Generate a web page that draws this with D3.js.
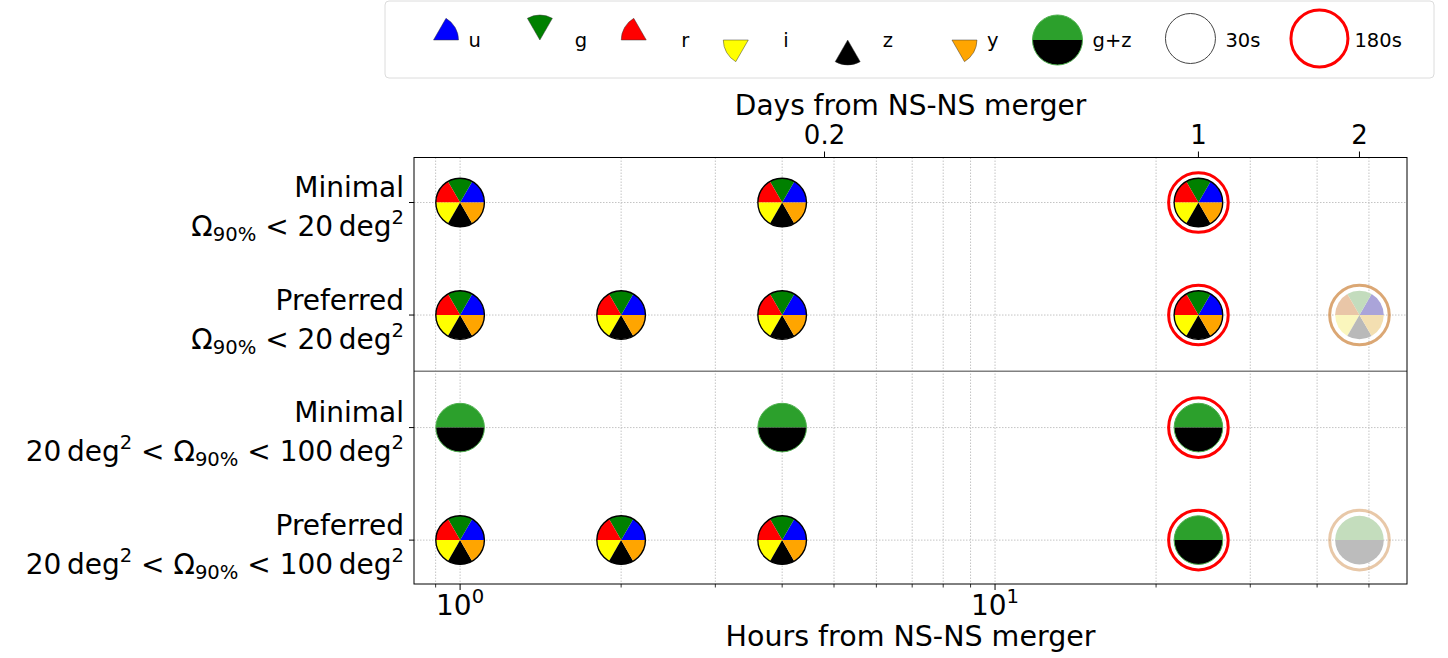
<!DOCTYPE html>
<html><head><meta charset="utf-8">
<script src="https://cdn.jsdelivr.net/npm/d3@7"></script>
<style>
body{margin:0;background:#fff}
svg{display:block}
text{font-family:"DejaVu Sans",sans-serif;fill:#000}
</style>
</head><body>
<svg id="chart" width="1448" height="658"></svg>
<script>
// ---------------- data ----------------
const rowLevels = ["Minimal", "Preferred", "Minimal", "Preferred"];
const rowArea = ["lt20", "lt20", "20to100", "20to100"];
const bandNames = ["u", "g", "r", "i", "z", "y"];
const bandColors = ["#0000ff", "#008000", "#ff0000", "#ffff00", "#000000", "#ffa500"];
const bandFaded = ["#aaa4d9", "#c3dcbd", "#e9c6a7", "#faf6bd", "#b9b9b9", "#f3dfb1"];
const gzNames = ["g", "z"];
const gzColors = ["#2ca02c", "#000000"];
const gzFaded = ["#c4ddbd", "#bcbcbc"];
const obsRow      = [0, 0, 0,   1, 1, 1, 1, 1,   2, 2, 2,   3, 3, 3, 3, 3];
const obsHours    = [1, 4, 24,  1, 2, 4, 24, 48, 1, 4, 24,  1, 2, 4, 24, 48];
const obsFilters  = ["ugrizy","ugrizy","ugrizy",
                     "ugrizy","ugrizy","ugrizy","ugrizy","ugrizy",
                     "g+z","g+z","g+z",
                     "ugrizy","ugrizy","ugrizy","g+z","g+z"];
const obsExposure = ["30s","30s","180s",
                     "30s","30s","30s","180s","180s",
                     "30s","30s","180s",
                     "30s","30s","30s","180s","180s"];
const obsFaded    = [false,false,false, false,false,false,false,true,
                     false,false,false, false,false,false,false,true];
const hourMajorTicks = [1, 10];
const hourMajorLabels = ["0", "1"];           // exponents of 10
const hourMinorTicks = [0.9, 2, 3, 4, 5, 6, 7, 8, 9, 20, 30, 40, 50];
const dayTicks = [0.2, 1, 2];
const dayTickLabels = ["0.2", "1", "2"];
const legendItems = ["u", "g", "r", "i", "z", "y", "g+z", "30s", "180s"];

// ---------------- layout ----------------
const svg = d3.select("#chart");
const L = 414, R = 1407, T = 157.5, B = 584;
const x = d3.scaleLog().domain([0.82, 58.9]).range([L, R]);
const y = d3.scaleLinear().domain([-0.4, 3.39]).range([T, B]);
const PIE_R = 24.3, RING_R = 29.8, LEG_R = 25;

const deg = a => a * Math.PI / 180;
// math angle (ccw from +x) -> d3 arc angles
function wedge(r, a1, a2) {
  return d3.arc().innerRadius(0).outerRadius(r)
    .startAngle(Math.PI / 2 - deg(a2)).endAngle(Math.PI / 2 - deg(a1))();
}

// ---------------- grid ----------------
const grid = svg.append("g");
hourMajorTicks.concat(hourMinorTicks).forEach(h => {
  grid.append("line").attr("x1", x(h)).attr("x2", x(h)).attr("y1", T).attr("y2", B)
    .attr("stroke", "#c4c4c4").attr("stroke-width", 1).attr("stroke-dasharray", "1.5,1.5");
});
[0, 1, 2, 3].forEach(r => {
  grid.append("line").attr("x1", L).attr("x2", R).attr("y1", y(r)).attr("y2", y(r))
    .attr("stroke", "#c4c4c4").attr("stroke-width", 1).attr("stroke-dasharray", "1.5,1.5");
});
// separator
svg.append("line").attr("x1", L).attr("x2", R).attr("y1", y(1.5)).attr("y2", y(1.5))
  .attr("stroke", "#808080").attr("stroke-width", 1.6);

// ---------------- markers ----------------
const marks = svg.append("g");
function drawPie(g, filt, faded, r) {
  if (filt === "ugrizy") {
    bandNames.forEach((b, i) => {
      g.append("path").attr("d", wedge(r, i * 60, (i + 1) * 60))
        .attr("fill", faded ? bandFaded[i] : bandColors[i]);
    });
    if (!faded) g.append("circle").attr("r", r).attr("fill", "none")
      .attr("stroke", "#000").attr("stroke-width", 1.4);
  } else {
    gzNames.forEach((b, i) => {
      g.append("path").attr("d", wedge(r, i * 180, (i + 1) * 180))
        .attr("fill", faded ? gzFaded[i] : gzColors[i]);
    });
    if (!faded) g.append("circle").attr("r", r).attr("fill", "none")
      .attr("stroke", "#4caf4c").attr("stroke-width", 1);
  }
}
obsRow.forEach((row, k) => {
  const g = marks.append("g").attr("transform", `translate(${x(obsHours[k])},${y(row)})`);
  drawPie(g, obsFilters[k], obsFaded[k], PIE_R);
  if (obsExposure[k] === "180s") {
    const col = obsFaded[k] ? "#cd853f" : "#ff0000";
    const op = obsFaded[k] ? (obsFilters[k] === "ugrizy" ? 0.72 : 0.45) : 1;
    g.append("circle").attr("r", RING_R).attr("fill", "none")
      .attr("stroke", col).attr("stroke-opacity", op).attr("stroke-width", 3);
  }
});

// ---------------- frame & axes ----------------
svg.append("rect").attr("x", L).attr("y", T).attr("width", R - L).attr("height", B - T)
  .attr("fill", "none").attr("stroke", "#000").attr("stroke-width", 1);

const ax = svg.append("g");
// bottom major
hourMajorTicks.forEach((h, i) => {
  ax.append("line").attr("x1", x(h)).attr("x2", x(h)).attr("y1", B).attr("y2", B + 6)
    .attr("stroke", "#000").attr("stroke-width", 1);
  const t = ax.append("text").attr("x", x(h)).attr("y", 615).attr("text-anchor", "middle")
    .attr("font-size", 28);
  t.append("tspan").text("10");
  t.append("tspan").attr("dy", -12).attr("font-size", 19.6).text(hourMajorLabels[i]);
});
hourMinorTicks.forEach(h => {
  ax.append("line").attr("x1", x(h)).attr("x2", x(h)).attr("y1", B).attr("y2", B + 3.5)
    .attr("stroke", "#000").attr("stroke-width", 0.8);
});
ax.append("text").attr("x", (L + R) / 2).attr("y", 646).attr("text-anchor", "middle")
  .attr("font-size", 28.5).text("Hours from NS-NS merger");
// top axis (days)
dayTicks.forEach((d, i) => {
  ax.append("line").attr("x1", x(d * 24)).attr("x2", x(d * 24)).attr("y1", T).attr("y2", T - 6)
    .attr("stroke", "#000").attr("stroke-width", 1);
  ax.append("text").attr("x", x(d * 24)).attr("y", 144).attr("text-anchor", "middle")
    .attr("font-size", 26).text(dayTickLabels[i]);
});
ax.append("text").attr("x", (L + R) / 2).attr("y", 115).attr("text-anchor", "middle")
  .attr("font-size", 28).text("Days from NS-NS merger");

// left ticks & labels
rowLevels.forEach((lvl, r) => {
  const yc = y(r);
  ax.append("line").attr("x1", L).attr("x2", L - 5).attr("y1", yc).attr("y2", yc)
    .attr("stroke", "#000").attr("stroke-width", 1);
  ax.append("text").attr("x", 404).attr("y", yc - 5.5).attr("text-anchor", "end")
    .attr("font-size", 28).text(lvl);
  const t = ax.append("text").attr("x", 404).attr("y", yc + 33.5).attr("text-anchor", "end")
    .attr("font-size", 28);
  const sub = s => { t.append("tspan").attr("dy", 5).attr("font-size", 19.6).text(s); };
  const sup = s => { t.append("tspan").attr("dy", -12).attr("font-size", 19.6).text(s); };
  if (rowArea[r] === "lt20") {
    t.append("tspan").text("\u03A9");
    sub("90%");
    t.append("tspan").attr("dy", -5).text(" < 20\u2009deg");
    sup("2");
  } else {
    t.append("tspan").text("20\u2009deg");
    sup("2");
    t.append("tspan").attr("dy", 12).text(" < \u03A9");
    sub("90%");
    t.append("tspan").attr("dy", -5).text(" < 100\u2009deg");
    sup("2");
  }
});

// ---------------- legend ----------------
const leg = svg.append("g");
leg.append("rect").attr("x", 385).attr("y", 1).attr("width", 1049).attr("height", 77)
  .attr("rx", 4).attr("fill", "#fff").attr("stroke", "#dcdcdc").attr("stroke-width", 1);
let cx = 433.5;
legendItems.forEach(it => {
  const g = leg.append("g").attr("transform", `translate(${cx},40)`);
  const bi = bandNames.indexOf(it);
  if (bi >= 0) {
    g.append("path").attr("d", wedge(LEG_R, bi * 60, (bi + 1) * 60))
      .attr("fill", bandColors[bi]).attr("stroke", "#333").attr("stroke-opacity", 0.6)
      .attr("stroke-width", 0.8);
  } else if (it === "g+z") {
    drawPie(g, "g+z", false, LEG_R);
  } else if (it === "30s") {
    g.append("circle").attr("cy", -1.5).attr("r", 25).attr("fill", "none")
      .attr("stroke", "#444").attr("stroke-width", 1);
  } else {
    g.append("circle").attr("cy", -1.5).attr("r", 28.5).attr("fill", "none")
      .attr("stroke", "#ff0000").attr("stroke-width", 3);
  }
  const t = leg.append("text").attr("x", cx + 35).attr("y", 47).attr("font-size", 19.5).text(it);
  cx = cx + 35 + t.node().getComputedTextLength() + 59;
});
</script>
</body></html>
